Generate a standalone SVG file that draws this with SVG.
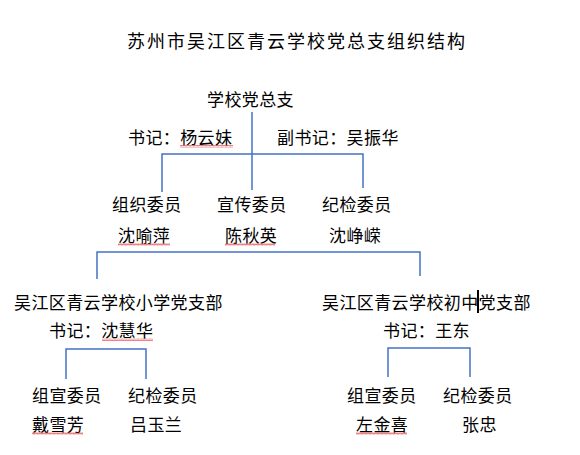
<svg xmlns="http://www.w3.org/2000/svg" width="580" height="455" viewBox="0 0 580 455">
<style>
text{font-family:"Noto Sans CJK SC","Noto Sans CJK TC",sans-serif;font-size:17px;letter-spacing:0.4px;fill:#000}
.title{font-size:18px;letter-spacing:2px}
.conn{stroke:#4472C4;stroke-width:1.5;fill:none}
.wavy{fill:url(#wave)}
</style>
<defs>
<pattern id="wave" x="0" y="0" width="4" height="3" patternUnits="userSpaceOnUse">
<polyline points="0,2.5 1,0.5 2,2.5 3,0.5 4,2.5" stroke="#e03030" stroke-width="0.6" fill="none"/>
</pattern>
</defs>
<rect width="580" height="455" fill="#fff"/>
<text class="title" x="127" y="48">苏州市吴江区青云学校党总支组织结构</text>
<g id="connectors">
<path class="conn" d="M252,112 V190"/>
<path class="conn" d="M162,192 V154 H363 V188"/>
<path class="conn" d="M97,279 V252 H420 V276"/>
<path class="conn" d="M66,379 V349 H146 V379"/>
<path class="conn" d="M388,377 V348 H470 V377"/>
</g>
<g id="root">
<text x="207" y="106">学校党总支</text>
</g>
<g id="secretary">
<text x="128" y="144">书记：杨云妹</text>
<rect class="wavy" x="180" y="145" width="53" height="3"/>
</g>
<g id="deputy">
<text x="277" y="144">副书记：吴振华</text>
</g>
<g id="org">
<text x="112" y="211">组织委员</text>
<text x="118" y="242">沈喻萍</text>
<rect class="wavy" x="118" y="243" width="52" height="3"/>
</g>
<g id="prop">
<text x="217" y="211">宣传委员</text>
<text x="225" y="242">陈秋英</text>
<rect class="wavy" x="225" y="243" width="50" height="3"/>
</g>
<g id="disc">
<text x="322" y="211">纪检委员</text>
<text x="329" y="242">沈峥嵘</text>
</g>
<g id="primary">
<text x="14" y="309">吴江区青云学校小学党支部</text>
<text x="49" y="337">书记：沈慧华</text>
<rect class="wavy" x="102" y="338" width="51" height="3"/>
</g>
<g id="middle">
<text x="322" y="309">吴江区青云学校初中党支部</text>
<rect x="477" y="290" width="2" height="23" fill="#000"/>
<text x="383" y="337">书记：王东</text>
</g>
<g id="p-org">
<text x="32" y="402">组宣委员</text>
<text x="32" y="431">戴雪芳</text>
<rect class="wavy" x="32" y="432" width="51" height="3"/>
</g>
<g id="p-disc">
<text x="128" y="402">纪检委员</text>
<text x="130" y="431">吕玉兰</text>
</g>
<g id="m-org">
<text x="347" y="402">组宣委员</text>
<text x="356" y="431">左金喜</text>
<rect class="wavy" x="356" y="432" width="51" height="3"/>
</g>
<g id="m-disc">
<text x="443" y="402">纪检委员</text>
<text x="462" y="431">张忠</text>
</g>
</svg>
